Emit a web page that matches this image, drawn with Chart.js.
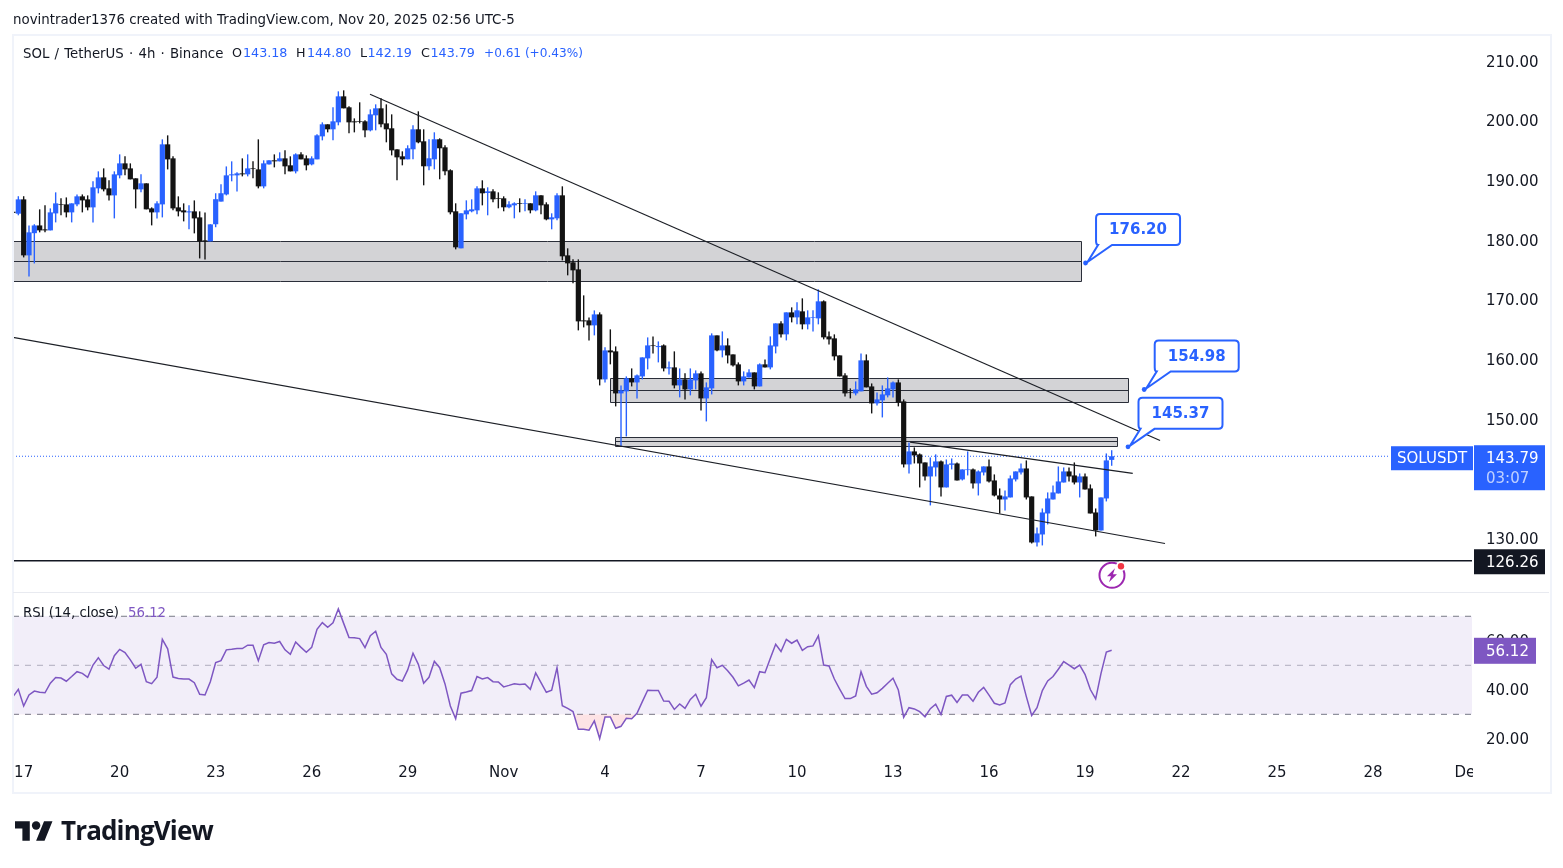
<!DOCTYPE html>
<html><head><meta charset="utf-8">
<script src="https://cdn.jsdelivr.net/npm/chart.js@4/dist/chart.umd.min.js"></script>
<style>
html,body{margin:0;padding:0;background:#fff;width:1563px;height:868px;overflow:hidden}
body{position:relative;font-family:"DejaVu Sans",sans-serif;color:#131722}
#c{position:absolute;left:0;top:0}
.t{position:absolute;white-space:pre;line-height:1}
.b{color:#2962FF}
.n{font-size:12.7px}
#frame{position:absolute;left:12px;top:34px;width:1536px;height:756px;border:2px solid #f0f3fa;pointer-events:none}
#sep{position:absolute;left:13px;top:592px;width:1536px;height:1px;background:#e8eaf0}
</style></head><body>
<canvas id="c" width="1563" height="868"></canvas>
<div id="frame"></div><div id="sep"></div>
<div class="t" style="left:13px;top:13px;font-size:13.38px">novintrader1376 created with TradingView.com, Nov 20, 2025 02:56 UTC-5</div>
<div class="t" style="left:23px;top:47px;font-size:13.3px;word-spacing:1px">SOL / TetherUS · 4h · Binance</div>
<div class="t n" style="left:232px;top:47px">O</div><div class="t n b" style="left:243px;top:47px">143.18</div>
<div class="t n" style="left:296px;top:47px">H</div><div class="t n b" style="left:307px;top:47px">144.80</div>
<div class="t n" style="left:360px;top:47px">L</div><div class="t n b" style="left:367.5px;top:47px">142.19</div>
<div class="t n" style="left:421px;top:47px">C</div><div class="t n b" style="left:430.5px;top:47px">143.79</div>
<div class="t b" style="left:484px;top:47px;font-size:12.1px">+0.61 (+0.43%)</div>
<div class="t" style="left:23px;top:606px;font-size:13.3px">RSI (14, close)</div>
<div class="t" style="left:128px;top:606px;font-size:13.3px;color:#7E57C2">56.12</div>
<svg style="position:absolute;left:15px;top:821px" width="38" height="20" viewBox="0 0 36 18.6"><path fill="#131722" d="M14 18.5H7V7H0V0h14v18.5zM28 18.5h-8L27.5 0h8L28 18.5z"/><circle cx="20" cy="4" r="4" fill="#131722"/></svg>
<div class="t" style="left:61px;top:817px;font-size:26px;font-weight:700;font-family:'Open Sans',sans-serif;letter-spacing:-.85px">TradingView</div>
<script>
const opens=[184.8,184.47,186.87,177.48,181.2,182.5,181.84,181.67,184.52,186.03,
186.03,184.69,186.03,187.38,186.87,185.53,188.72,190.56,188.72,187.54,
190.9,192.91,192.07,190.4,188.55,189.56,185.36,184.69,186.03,196.1,
193.75,185.53,185.03,184.69,184.86,183.85,180,179.83,182.7,186.5,
187.7,190.9,190.9,191.23,191.07,192.07,191.9,189.05,192.74,193.42,
193.25,193.75,192.58,191.57,194.42,193.75,192.74,193.58,197.44,199.46,
198.62,199.79,204.15,202.31,199.96,199.96,199.96,198.45,200.97,202.14,
199.62,198.79,195.26,194.09,193.59,195.27,198.62,196.61,192.42,193.59,
196.95,195.6,191.75,184.87,178.66,184.36,184.87,185.03,188.72,187.94,
188.22,187.05,187.05,185.54,185.87,186.21,186.1,186.21,185.03,187.55,
186.04,183.52,183.69,187.55,177.48,176.31,175.13,166.58,166.58,165.74,
167.58,156.68,161.54,161.38,154.33,154.67,156.85,156.17,157.18,160.2,
162.38,162.1,162.38,158.52,158.69,155.67,156.68,155,156.51,157.69,
153.49,155.17,164.06,161.54,162.38,160.87,159.2,156.34,157.01,157.85,
155.5,159.2,158.69,162.2,166.07,164.23,167.92,167.08,168.09,165.91,
166.97,166.91,169.77,163.89,163.56,160.7,157.35,154.5,154.33,154.67,
159.87,155.5,152.65,153.16,154,155,156.17,152.99,142.42,144.6,
144.1,142.75,140.4,141.91,142.92,138.56,142.36,142.58,139.9,141.47,
141.58,139.23,141.07,142.08,139.73,137.21,136.54,136.88,139.9,141.07,
141.74,137.05,129.33,130.67,134.19,136.54,137.55,139.39,141.24,140.57,
139.39,140.4,138.39,134.36,131.34,136.71,143.18];
const closes=[184.6,186.87,177.48,181.34,182.5,181.67,181.67,184.69,186.2,185.92,
184.69,186.2,187.38,186.7,185.53,188.89,190.56,188.55,187.54,191.07,
192.91,191.9,190.23,188.55,189.56,185.2,184.69,186.2,196.1,193.58,
185.36,184.86,184.69,184.86,183.68,179.83,179.83,182.68,186.9,187.9,
190.9,191.07,191.23,191.07,192.07,191.96,189.05,192.91,193.42,193.25,
193.75,192.41,191.57,194.42,193.58,192.58,193.75,197.61,199.46,198.62,
199.96,204.15,202.14,199.79,199.79,199.85,198.45,201.13,202.14,199.46,
198.62,195.09,193.92,193.58,195.44,198.62,196.44,192.42,193.76,196.95,
195.44,191.58,184.7,178.83,184.53,185.03,185.2,188.72,187.89,188.22,
186.88,186.94,185.54,186.04,186.21,186.1,186.21,185.03,187.55,185.87,
183.52,183.86,187.55,177.32,176.14,174.97,166.41,166.41,165.74,167.58,
156.68,161.54,161.21,154.33,154.83,156.85,156.17,157.35,160.37,162.38,
162.27,162.27,158.52,158.69,155.67,156.68,155,156.68,157.69,153.49,
155.34,164.06,161.54,162.38,160.7,159.03,156.34,157.18,157.85,155.5,
159.2,158.69,162.38,166.07,164.23,167.92,167.08,168.26,165.91,167.08,
167.08,169.77,163.73,163.39,160.54,157.18,154.33,154.39,155,159.87,
155.34,152.65,153.32,154.16,155.17,156.17,152.82,142.42,144.6,143.93,
142.58,140.4,142.08,142.92,138.56,142.42,142.58,139.73,141.58,141.58,
139.23,141.24,142.08,139.56,137.21,136.54,137.05,140.07,141.24,141.74,
136.88,129.33,130.84,134.36,136.71,137.72,139.56,141.24,140.4,139.39,
140.4,138.22,134.19,131.34,136.88,143.09,143.79];
const highs=[185,187.4,187.4,182.5,182.7,185.2,185.87,185.36,188.05,187.04,
187.2,186.2,187.7,187.7,187.54,189.9,191.57,192.07,190.06,191.57,
194.42,194.09,192.91,190.4,191.07,189.56,185.53,186.54,196.94,197.61,
194.09,187.38,186.2,185.87,186.7,184.86,184.69,182.7,187.9,189.4,
192.4,193.25,191.4,193.75,194.42,193.25,196.94,193.42,193.42,194.42,
194.76,195.09,194.09,194.59,194.76,194.25,194.09,197.78,199.79,199.46,
202.31,204.99,205.16,202.48,200.46,203.15,200.13,201.97,202.81,203.82,
202.81,201.13,195.26,194.93,195.94,199.3,201.64,198.62,196.95,198.12,
197.11,195.94,191.91,186.21,184.53,186.71,186.88,189.06,190.07,188.89,
188.56,188.05,187.38,186.54,186.38,187.05,186.88,186.21,188.22,187.55,
186.38,184.53,187.89,189.06,178.66,176.81,176.81,170.77,167.08,168.25,
167.92,162.05,165.07,162.21,155.67,157.18,158.52,157.52,160.37,163.72,
163.89,163.05,162.55,159.7,161.38,158.52,157.69,158.52,158.19,158.02,
156.17,164.4,164.06,164.73,163.56,160.87,159.53,158.02,158.36,157.85,
159.36,160.03,163.89,166.07,166.41,167.92,168.76,169.6,170.27,168.26,
168.26,171.78,169.93,164.73,164.23,160.7,157.69,155.17,156.34,161.04,
160.87,156,154.5,155.67,157.01,156.34,156.68,153.32,146.11,145.27,
144.26,142.75,143.59,144.1,143.09,143.25,143.42,142.75,141.58,144.6,
141.74,141.41,142.08,143.25,140.74,138.39,138.05,140.57,141.24,142.58,
143.09,137.05,131.85,135.03,137.72,138.89,142.08,141.91,141.91,142.75,
140.9,140.9,139.06,135.03,136.88,144.26,144.8];
const lows=[184.4,184.2,177.14,173.95,176.13,181.34,181.34,181.67,183.01,184.19,
183.85,183.01,185.7,184.69,185.03,183.01,187.88,188.21,186.7,183.68,
190.4,190.9,190.23,185.36,188.05,185.2,182.51,183.68,183.85,191.9,
185.03,184.02,183.18,181.84,181.17,176.97,176.8,179.83,182.2,186.5,
187.54,189.9,188.2,190.73,190.73,190.4,188.72,188.72,192.74,192.24,
193.25,191.07,191.57,191.23,193.58,191.74,192.58,193.58,196.77,198.11,
196.77,199.29,202.14,197.95,198.11,199.62,197.28,198.28,198.45,198.95,
196.44,194.25,190.06,192.58,193.59,193.59,196.28,189.23,191.74,191.91,
190.24,190.91,184.36,178.49,178.66,183.52,184.7,184.36,185.87,184.2,
186.38,185.37,184.87,185.37,183.69,184.7,184.87,184.53,184.87,184.36,
183.36,181.85,183.36,176.64,174.13,172.79,164.9,165.4,163.22,164.06,
155.67,156.17,159.2,152.15,145.5,147.11,155.5,153.49,156.68,158.36,
161.04,159.53,158.02,157.52,155.17,153.66,153.32,154,155,151.48,
149.63,154.16,161.38,160.37,159.36,158.86,155.67,155.67,157.01,155,
155.5,158.69,158.36,161.04,163.72,163.22,166.24,165.91,165.07,165.07,
164.73,165.91,163.39,162.55,159.87,157.18,153.83,153.49,154,154.67,
155.34,150.97,152.32,150.3,153.66,153.66,152.15,141.91,140.91,142.58,
138.56,139.73,135.54,140.4,137.05,138.56,141.58,139.73,139.73,140.57,
138.39,137.21,140.57,139.39,137.05,134.19,134.7,136.88,139.56,140.74,
136.54,129.16,128.66,128.83,132.35,136.54,137.55,139.39,139.56,139.06,
136.88,138.22,134.19,130.34,131.34,136.21,142.19];
const rsiValues=[37.2,40.2,33.4,37.9,39.5,39,38.8,42.7,45,44.8,
43.5,45.4,47.4,46.7,45.1,50.1,53.1,49.9,48.4,53.9,
56.5,55.2,52.2,48.8,50.4,43.3,42.5,45.1,60.6,56.7,
45.2,44.6,44.4,44.4,42.9,38.2,37.9,43.3,51.1,51.9,
56.3,56.5,56.8,56.8,58.2,58.2,51.9,58.4,59.3,59,
59.7,56.3,54.5,59.5,57.3,55.3,57.3,64.7,67.4,65.5,
67.3,73,67.1,61.3,61.2,60.9,57.2,62.1,63.9,57.3,
54.5,46.5,44.3,43.6,48.1,54.9,50.4,42.7,45.1,51.6,
49,42.4,33.4,28.2,38.6,39.1,39.7,45.4,44.4,45,
43.3,43.2,41.2,41.8,42.5,42.2,42.4,40.2,46.9,42.9,
39,39.8,49,33.5,32.4,31.1,23.9,23.9,23.5,27.3,
20.1,28.9,28.9,24.3,25.1,28.4,28.2,30.4,35.2,39.8,
39.7,39.7,35.4,35.3,32,34.2,32.4,36.1,38.2,33.3,
36.8,52.3,49,50,47.8,45.1,41.6,42.7,44,40.9,
47.4,47,52.9,58.6,55.6,60.6,59,60.3,56.1,57.6,
57.9,62,50.1,49.7,44.4,40.3,36.4,36.4,37.5,47.4,
41.4,38.2,38.8,40.6,42.7,44.7,39.9,28.8,32.7,32.2,
31.1,29,32.3,34.1,29.9,37.3,37.8,34.8,37.9,37.9,
35.3,39,41,37.8,34.5,33.8,34.6,42.1,44.4,45.6,
37.2,29.5,32.7,39.7,43.6,45.4,48.4,51.5,50.1,48.6,
50.1,46.3,40.1,36.3,46.7,55.4,56.12];
const xTickBars=[2,20,38,56,74,92,111,129,147,165,183,201,219,237,255,273];
const xTickLabels=["17","20","23","26","29","Nov","4","7","10","13","16","19","22","25","28","Dec"];
const priceTicks=[130,140,150,160,170,180,190,200,210];
const rsiTicks=[20,40,60];
const lastBar=273.56;
const lastPrice=143.79, supportPrice=126.26, lastRsi=56.12;
const zoneStart=[0,112,112.9], zoneEnd=[200.25,209.2,207.1];
const zoneTop=[179.83,156.85,146.9], zoneMid=[176.43,154.83,146.23], zoneBottom=[173.07,152.82,145.39];
const trendUpper=[{x:66.94,y:204.5},{x:215.07,y:146.44}];
const trendLower=[{x:0,y:163.72},{x:216,y:129.16}];
const trendInner=[{x:168.2,y:146.16},{x:209.95,y:140.9}];
const noteBars=[201.1,212.1,209.06], notePrices=[176.2,154.98,145.37];
const noteText=["176.20","154.98","145.37"];

const UP='#2962FF',DOWN='#131313',FONT='"DejaVu Sans",sans-serif';
const bars=opens.map((_,i)=>i);
const colors=opens.map((o,i)=>closes[i]>=o?UP:DOWN);
const snap=v=>Math.round(v-0.5)+0.5;

const overlay={id:'overlay',
 beforeDatasetsDraw(c){
  const ctx=c.ctx,X=c.scales.x,Y=c.scales.y;ctx.save();
  zoneStart.forEach((s,i)=>{
   const l=snap(X.getPixelForValue(s)),r=snap(X.getPixelForValue(zoneEnd[i]));
   const t=snap(Y.getPixelForValue(zoneTop[i])),m=snap(Y.getPixelForValue(zoneMid[i])),b=snap(Y.getPixelForValue(zoneBottom[i]));
   ctx.fillStyle='#d3d3d6';ctx.fillRect(l,t,r-l,b-t);
   ctx.strokeStyle='#2a2e39';ctx.lineWidth=1;
   ctx.beginPath();
   ctx.moveTo(l,t);ctx.lineTo(r,t);ctx.lineTo(r,b);ctx.lineTo(l,b);
   if(s>0){ctx.lineTo(l,t);}
   ctx.moveTo(l,m);ctx.lineTo(r,m);
   ctx.stroke();
  });
  ctx.restore();
 },
 afterDraw(c){
  const ctx=c.ctx,X=c.scales.x,Y=c.scales.y,R=c.scales.rsi;ctx.save();
  ctx.fillStyle='#fff';ctx.fillRect(1473,756,60,35);
  noteBars.forEach((b,i)=>{
   const px=X.getPixelForValue(b),py=Y.getPixelForValue(notePrices[i]);
   const bx=px+10.5,by=py-49,w=84,h=31;
   ctx.beginPath();
   ctx.moveTo(bx+4,by);ctx.lineTo(bx+w-4,by);ctx.quadraticCurveTo(bx+w,by,bx+w,by+4);
   ctx.lineTo(bx+w,by+h-4);ctx.quadraticCurveTo(bx+w,by+h,bx+w-4,by+h);
   ctx.lineTo(bx+16,by+h);ctx.lineTo(px+2,py-1);ctx.lineTo(bx+2,by+h);
   ctx.quadraticCurveTo(bx,by+h,bx,by+h-4);ctx.lineTo(bx,by+4);ctx.quadraticCurveTo(bx,by,bx+4,by);ctx.closePath();
   ctx.fillStyle='#fff';ctx.fill();ctx.strokeStyle=UP;ctx.lineWidth=2;ctx.stroke();
   ctx.fillStyle=UP;ctx.beginPath();ctx.arc(px,py,2.4,0,7);ctx.fill();
   ctx.font='bold 15px '+FONT;ctx.textAlign='center';ctx.textBaseline='middle';
   ctx.fillText(noteText[i],bx+w/2,by+h/2+1);
  });
  ctx.textBaseline='middle';ctx.textAlign='left';
  const yp=Y.getPixelForValue(lastPrice);
  ctx.fillStyle=UP;ctx.fillRect(1391,yp-10,82,24);ctx.fillRect(1474,yp-11,71,45);
  ctx.fillStyle='#fff';ctx.font='15px '+FONT;
  ctx.fillText('SOLUSDT',1397,yp+3);ctx.fillText(lastPrice.toFixed(2),1486,yp+3);
  ctx.fillStyle='rgba(255,255,255,.7)';ctx.fillText('03:07',1486,yp+23);
  const ys=Y.getPixelForValue(supportPrice);
  ctx.fillStyle='#131722';ctx.fillRect(1474,ys-11.5,71,25);
  ctx.fillStyle='#fff';ctx.fillText(supportPrice.toFixed(2),1486,ys+2);
  const yr=R.getPixelForValue(lastRsi);
  ctx.fillStyle='#7E57C2';ctx.fillRect(1474,yr-12.5,62,26);
  ctx.fillStyle='#fff';ctx.fillText(lastRsi.toFixed(2),1486,yr+2);
  const ix=X.getPixelForValue(206)+0.3,iy=ys+14.5;
  ctx.strokeStyle='#9c27b0';ctx.lineWidth=2;ctx.beginPath();ctx.arc(ix,iy,12.5,0,7);ctx.stroke();
  ctx.fillStyle='#9c27b0';ctx.beginPath();
  ctx.moveTo(ix+3,iy-7);ctx.lineTo(ix-5,iy+1);ctx.lineTo(ix-1,iy+1);ctx.lineTo(ix-3,iy+7);ctx.lineTo(ix+5,iy-1);ctx.lineTo(ix+1,iy-1);ctx.closePath();ctx.fill();
  ctx.fillStyle='#fff';ctx.beginPath();ctx.arc(ix+9,iy-9,5,0,7);ctx.fill();
  ctx.fillStyle='#f23645';ctx.beginPath();ctx.arc(ix+9,iy-9,3.2,0,7);ctx.fill();
  ctx.restore();
 }};

const flatLine=(v,yId,opt)=>Object.assign({type:'line',yAxisID:yId,data:[{x:0,y:v},{x:lastBar,y:v}],pointRadius:0,borderWidth:1,fill:false,tension:0},opt);
const trend=(d)=>({type:'line',yAxisID:'y',data:d,pointRadius:0,borderWidth:1.2,borderColor:'#1c1f26',fill:false,tension:0,order:0});

new Chart(document.getElementById('c'),{
 type:'bar',
 plugins:[overlay],
 data:{datasets:[
  trend(trendUpper),trend(trendLower),trend(trendInner),
  flatLine(supportPrice,'y',{borderColor:'#131722',borderWidth:1.4,order:0}),
  flatLine(lastPrice,'y',{borderColor:UP,borderDash:[1,2],borderWidth:1.2,order:3,data:[{x:0,y:lastPrice},{x:258,y:lastPrice}]}),
  {type:'bar',yAxisID:'y',label:'body',data:bars.map(i=>({x:i,y:[opens[i],closes[i]]})),backgroundColor:colors,barThickness:5.2,grouped:false,inflateAmount:0,order:1},
  {type:'bar',yAxisID:'y',label:'wick',data:bars.map(i=>({x:i,y:[lows[i],highs[i]]})),backgroundColor:colors,barThickness:1.4,grouped:false,inflateAmount:0,order:2},
  {type:'line',yAxisID:'rsi',label:'RSI',data:bars.map(i=>({x:i,y:rsiValues[i]})),borderColor:'#7E57C2',borderWidth:1.5,pointRadius:0,tension:0,order:1,
   fill:{target:{value:30},above:'rgba(0,0,0,0)',below:'rgba(242,54,69,.14)'}},
  flatLine(70,'rsi',{borderColor:'#787B86',borderDash:[6,6],order:4,backgroundColor:'rgba(126,87,194,.1)',fill:{target:{value:30}}}),
  flatLine(50,'rsi',{borderColor:'rgba(120,123,134,.55)',borderDash:[6,6],order:4}),
  flatLine(30,'rsi',{borderColor:'#787B86',borderDash:[6,6],order:4})
 ]},
 options:{
  responsive:false,animation:false,events:[],
  layout:{padding:{left:13,top:35,right:14,bottom:75}},
  plugins:{legend:{display:false},tooltip:{enabled:false}},
  scales:{
   x:{type:'linear',offset:false,min:0,max:lastBar,
    grid:{display:false,drawTicks:false},border:{display:false},
    afterBuildTicks:s=>{s.ticks=xTickBars.map(v=>({value:v}))},
    afterFit:s=>{s.height=38},
    ticks:{autoSkip:false,maxRotation:0,padding:9,color:'#131722',font:{family:FONT,size:15},
     callback:v=>xTickLabels[xTickBars.indexOf(v)]}},
   y:{type:'linear',position:'right',stack:'panes',stackWeight:557,weight:0,min:121.02,max:214.44,
    grid:{display:false,drawTicks:false},border:{display:false},
    afterBuildTicks:s=>{s.ticks=priceTicks.map(v=>({value:v}))},
    afterFit:s=>{s.width=77},
    ticks:{padding:14,color:'#131722',font:{family:FONT,size:15,lineHeight:'3px'},callback:v=>['',v.toFixed(2)]}},
   rsi:{type:'linear',position:'right',stack:'panes',stackWeight:163,weight:1,min:13.4,max:79.9,
    grid:{display:false,drawTicks:false},border:{display:false},
    afterBuildTicks:s=>{s.ticks=rsiTicks.map(v=>({value:v}))},
    afterFit:s=>{s.width=77},
    ticks:{padding:14,color:'#131722',font:{family:FONT,size:15,lineHeight:'2px'},callback:v=>['',v.toFixed(2)]}}
  }
 }
});
</script>
</body></html>
